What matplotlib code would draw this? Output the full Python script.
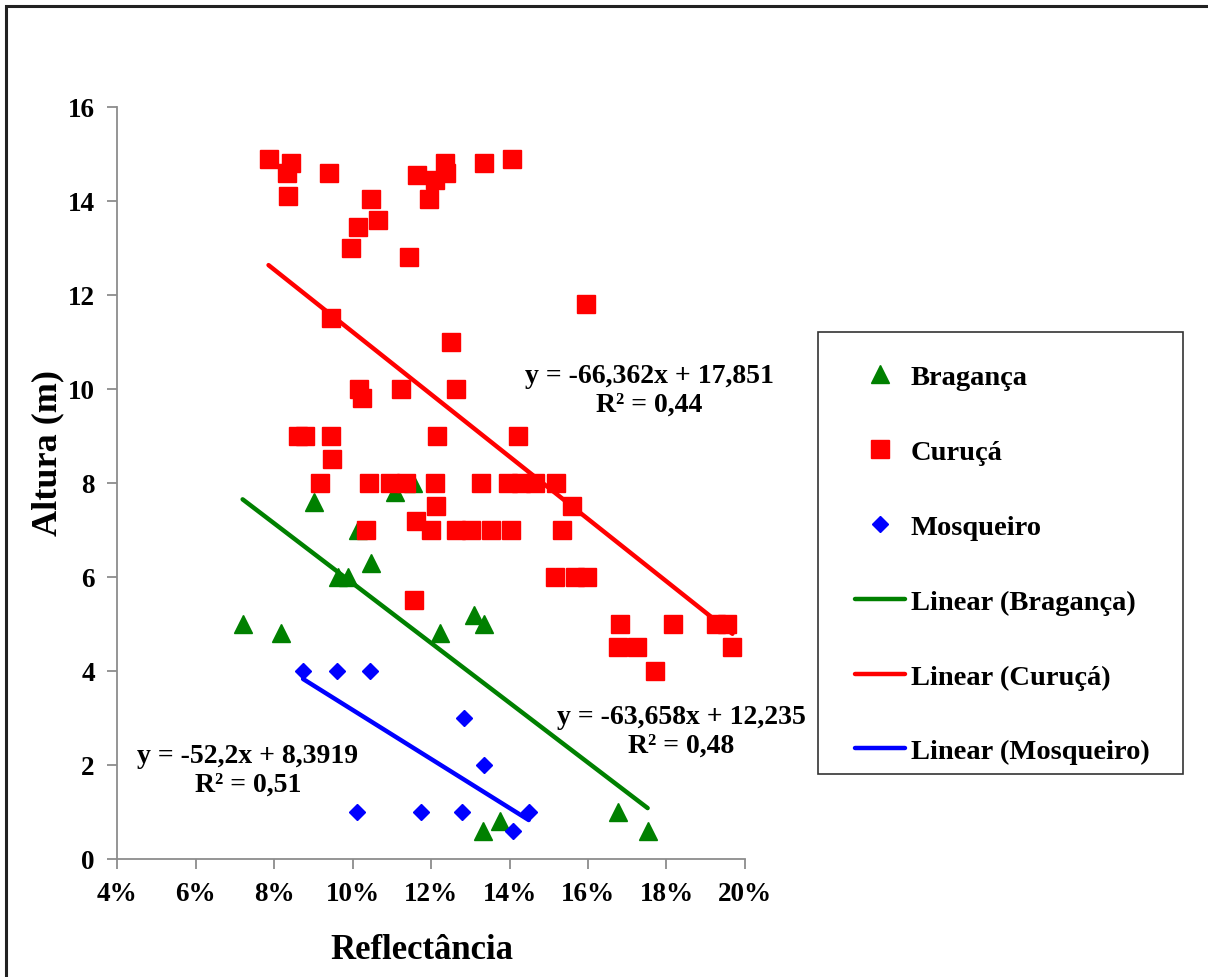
import matplotlib
matplotlib.use("Agg")
import matplotlib.pyplot as plt
import numpy as np
from matplotlib.patches import Rectangle
from matplotlib.ticker import PercentFormatter, MultipleLocator

# reflectance (fraction) and height (m) per site
BRAG_X = [0.0720, 0.0817, 0.0902, 0.0963, 0.0989, 0.1015, 0.1048, 0.1108, 0.1155,
          0.1222, 0.1310, 0.1336, 0.1332, 0.1375, 0.1676, 0.1752]
BRAG_Y = [5.0, 4.8, 7.6, 6.0, 6.0, 7.0, 6.3, 7.8, 8.0,
          4.8, 5.2, 5.0, 0.6, 0.8, 1.0, 0.6]

CURU_X = [0.0786, 0.0844, 0.0832, 0.0835, 0.0940, 0.1047, 0.1065, 0.1015, 0.0997,
          0.1143, 0.0945, 0.1017, 0.1024, 0.1124, 0.0860, 0.0878, 0.0945, 0.0948,
          0.0916, 0.1042, 0.1095, 0.1135, 0.1210, 0.1164, 0.1210, 0.1196, 0.1235,
          0.1239, 0.1335, 0.1407, 0.1595, 0.1252, 0.1264, 0.1215, 0.1422, 0.1328,
          0.1395, 0.1430, 0.1465, 0.1518, 0.1212, 0.1161, 0.1200, 0.1263, 0.1303,
          0.1353, 0.1403, 0.1534, 0.1560, 0.1515, 0.1568, 0.1598, 0.1156, 0.1681,
          0.1817, 0.1926, 0.1953, 0.1968, 0.1677, 0.1724, 0.1771, 0.1035]
CURU_Y = [14.9, 14.8, 14.6, 14.1, 14.6, 14.05, 13.6, 13.45, 13.0,
          12.8, 11.5, 10.0, 9.8, 10.0, 9.0, 9.0, 9.0, 8.5,
          8.0, 8.0, 8.0, 8.0, 8.0, 14.55, 14.45, 14.05, 14.8,
          14.6, 14.8, 14.9, 11.8, 11.0, 10.0, 9.0, 9.0, 8.0,
          8.0, 8.0, 8.0, 8.0, 7.5, 7.2, 7.0, 7.0, 7.0,
          7.0, 7.0, 7.0, 7.5, 6.0, 6.0, 6.0, 5.5, 5.0,
          5.0, 5.0, 5.0, 4.5, 4.5, 4.5, 4.0, 7.0]

MOSQ_X = [0.0874, 0.0961, 0.1044, 0.1012, 0.1175, 0.1284, 0.1336, 0.1278, 0.1449, 0.1410]
MOSQ_Y = [4.0, 4.0, 4.0, 1.0, 1.0, 3.0, 2.0, 1.0, 1.0, 0.6]

# linear trendlines: (slope, intercept, R²)
BRAG_FIT = (-63.658, 12.235, 0.48)
CURU_FIT = (-66.362, 17.851, 0.44)
MOSQ_FIT = (-52.2, 8.3919, 0.51)

SERIES = ["Bragança", "Curuçá", "Mosqueiro"]

GREEN = "#008000"
RED = "#FF0000"
BLUE = "#0000FF"
AXIS_GREY = "#8c8c8c"


def fmt(v):
    return f"{v:g}".replace(".", ",")


def fit_label(fit):
    slope, icpt, r2 = fit
    return f"y = {fmt(slope)}x + {fmt(icpt)}\nR² = {fmt(r2)}"


def main():
    plt.rcParams.update(
        {
            "font.family": "Liberation Serif",
            "font.weight": "bold",
            "axes.labelweight": "bold",
        }
    )

    W, H = 1208, 978
    fig = plt.figure(figsize=(W / 100, H / 100), dpi=100)
    ax = fig.add_axes([0.0969, 0.1207, 0.5198, 0.7689])

    # trendlines over each series' x range, drawn beneath the markers
    line_handles = []
    for xs, fit, col in [(BRAG_X, BRAG_FIT, GREEN), (CURU_X, CURU_FIT, RED), (MOSQ_X, MOSQ_FIT, BLUE)]:
        xr = np.array([min(xs), max(xs)])
        ln, = ax.plot(xr, fit[0] * xr + fit[1], color=col, lw=3.2,
                      solid_capstyle="round", zorder=2)
        line_handles.append(ln)

    hb, = ax.plot(BRAG_X, BRAG_Y, ls="none", marker="^", ms=12.5, color=GREEN, zorder=3)
    hc, = ax.plot(CURU_X, CURU_Y, ls="none", marker="s", ms=13.3, color=RED, zorder=3)
    hm, = ax.plot(MOSQ_X, MOSQ_Y, ls="none", marker="D", ms=8.6, color=BLUE, zorder=3)

    ax.set_xlim(0.04, 0.20)
    ax.set_ylim(0, 16)
    ax.xaxis.set_major_locator(MultipleLocator(0.02))
    ax.yaxis.set_major_locator(MultipleLocator(2))
    ax.xaxis.set_major_formatter(PercentFormatter(xmax=1, decimals=0))

    for side in ("top", "right"):
        ax.spines[side].set_visible(False)
    for side in ("left", "bottom"):
        ax.spines[side].set_color(AXIS_GREY)
        ax.spines[side].set_linewidth(1.3)
    ax.tick_params(axis="both", direction="out", length=7, width=1.3,
                   color=AXIS_GREY, labelsize=19.5)
    ax.tick_params(axis="x", pad=9)
    ax.tick_params(axis="y", pad=9)

    ax.set_xlabel("Reflectância", fontsize=25)
    ax.xaxis.set_label_coords(0.486, -0.098)
    ax.set_ylabel("Altura (m)", fontsize=26)
    ax.yaxis.set_label_coords(-0.084, 0.541)

    # trendline equations
    eq_kw = dict(ha="center", va="center", multialignment="center",
                 fontsize=20, linespacing=1.2)
    ax.text(0.1756, 9.98, fit_label(CURU_FIT), **eq_kw)
    ax.text(0.1838, 2.72, fit_label(BRAG_FIT), **eq_kw)
    ax.text(0.0733, 1.89, fit_label(MOSQ_FIT), **eq_kw)

    # legend entries, with a separate box drawn around them
    fig.legend(
        [hb, hc, hm] + line_handles,
        SERIES + [f"Linear ({s})" for s in SERIES],
        loc="upper left",
        bbox_to_anchor=(855 / W, 1 - 365 / H),
        fontsize=20.5,
        frameon=False,
        borderpad=0,
        borderaxespad=0,
        labelspacing=1.72,
        handlelength=1.75,
        handletextpad=0.21,
    )
    fig.add_artist(Rectangle((818 / W, 1 - 775 / H), 365 / W, 442 / H,
                             transform=fig.transFigure, fill=False,
                             edgecolor="#333333", lw=1.2))

    # chart-area border along the top and left edges
    fig.add_artist(Rectangle((0.0052, -0.5), 2.0, 1.4928, transform=fig.transFigure,
                             fill=False, edgecolor="#222222", lw=2.2))

    fig.savefig("out.png", dpi=100)


if __name__ == "__main__":
    main()
